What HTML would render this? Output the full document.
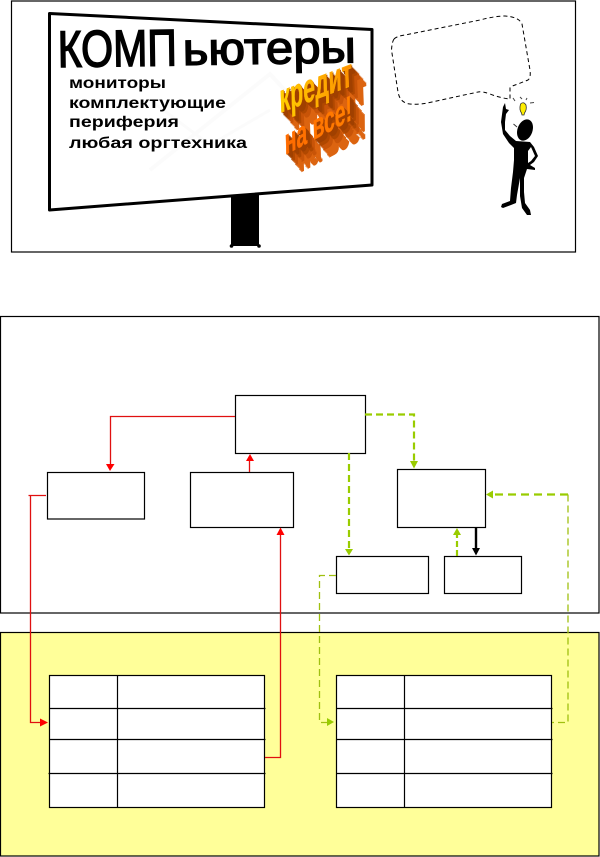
<!DOCTYPE html>
<html>
<head>
<meta charset="utf-8">
<style>
html,body{margin:0;padding:0;background:#fff;width:600px;height:857px;overflow:hidden}
svg{display:block}
text{font-family:"Liberation Sans",sans-serif}
</style>
</head>
<body>
<svg width="600" height="857" viewBox="0 0 600 857" xmlns="http://www.w3.org/2000/svg">
<defs>
<linearGradient id="g1" gradientUnits="userSpaceOnUse" x1="0" y1="0" x2="100" y2="0"><stop offset="0" stop-color="#FFD000"/><stop offset="1" stop-color="#FF9000"/></linearGradient>
<linearGradient id="g2" gradientUnits="userSpaceOnUse" x1="0" y1="0" x2="100" y2="0"><stop offset="0" stop-color="#FF6A00"/><stop offset="1" stop-color="#FF8000"/></linearGradient>
</defs>

<!-- top frame -->
<rect x="11.5" y="1" width="564" height="251" fill="#fff" stroke="#000" stroke-width="1.2"/>

<!-- pole -->
<rect x="231" y="192" width="28" height="54" fill="#000"/>
<circle cx="231.5" cy="246" r="1.8" fill="#000"/><circle cx="259" cy="246" r="1.8" fill="#000"/>
<!-- billboard -->
<polygon points="49.5,13.5 372,29.5 372,185 49.5,210" fill="#fff" stroke="#000" stroke-width="3" stroke-linejoin="round"/>
<!-- watermark -->
<polyline points="150,170 270,74 340,150" fill="none" stroke="#fbfbfb" stroke-width="4"/>
<polyline points="150,100 210,145 270,110" fill="none" stroke="#fbfbfb" stroke-width="3"/>

<!-- billboard title -->
<text transform="translate(58,67) rotate(-0.8) scale(1,1.24)" font-size="41.5" textLength="119" lengthAdjust="spacingAndGlyphs" fill="#000" stroke="#000" stroke-width="1.3">КОМП</text>
<text transform="translate(183,65) rotate(-0.9) scale(1,1.1)" font-size="41.5" textLength="173" lengthAdjust="spacingAndGlyphs" fill="#000" stroke="#000" stroke-width="1.3">ьютеры</text>
<g fill="#000" font-weight="bold" font-size="16">
<text x="69" y="88" textLength="97" lengthAdjust="spacingAndGlyphs">мониторы</text>
<text x="69" y="108" textLength="157" lengthAdjust="spacingAndGlyphs">комплектующие</text>
<text x="69" y="127" textLength="110" lengthAdjust="spacingAndGlyphs">периферия</text>
<text x="69" y="148" textLength="178" lengthAdjust="spacingAndGlyphs">любая оргтехника</text>
</g>

<!-- credit wordart -->
<g font-weight="bold" font-size="30">
<g fill="#DC6410">
<text transform="matrix(.71,-.27,.05,1.35,295,131)">кредит</text>
<text transform="matrix(.71,-.27,.05,1.35,294,130)">кредит</text>
<text transform="matrix(.71,-.27,.05,1.35,293,129)">кредит</text>
<text transform="matrix(.71,-.27,.05,1.35,292,127)">кредит</text>
<text transform="matrix(.71,-.27,.05,1.35,291,126)">кредит</text>
<text transform="matrix(.71,-.27,.05,1.35,290,125)">кредит</text>
<text transform="matrix(.71,-.27,.05,1.35,289,124)" fill="#C85408">кредит</text>
<text transform="matrix(.71,-.27,.05,1.35,288,122)" fill="#C85408">кредит</text>
<text transform="matrix(.71,-.27,.05,1.35,287,121)" fill="#C85408">кредит</text>
<text transform="matrix(.71,-.27,.05,1.35,286,120)" fill="#B04800">кредит</text>
<text transform="matrix(.71,-.27,.05,1.35,285,119)" fill="#B04800">кредит</text>
<text transform="matrix(.71,-.27,.05,1.35,284,118)" fill="#A04000">кредит</text>
<text transform="matrix(.71,-.27,.05,1.35,283,117)" fill="#A04000">кредит</text>
<text transform="matrix(.71,-.27,.05,1.35,282,116)" fill="#A04000">кредит</text>
<text transform="matrix(.71,-.27,.05,1.35,281,114)" fill="#A04000">кредит</text>
</g>
<g fill="#DC6410">
<text transform="matrix(.645,-.34,.03,1.2,300,173)">на все!</text>
<text transform="matrix(.645,-.34,.03,1.2,299,172)">на все!</text>
<text transform="matrix(.645,-.34,.03,1.2,298,171)">на все!</text>
<text transform="matrix(.645,-.34,.03,1.2,297,169)">на все!</text>
<text transform="matrix(.645,-.34,.03,1.2,296,168)">на все!</text>
<text transform="matrix(.645,-.34,.03,1.2,295,167)">на все!</text>
<text transform="matrix(.645,-.34,.03,1.2,294,166)" fill="#C85408">на все!</text>
<text transform="matrix(.645,-.34,.03,1.2,293,164)" fill="#C85408">на все!</text>
<text transform="matrix(.645,-.34,.03,1.2,292,163)" fill="#C85408">на все!</text>
<text transform="matrix(.645,-.34,.03,1.2,291,162)" fill="#B04800">на все!</text>
<text transform="matrix(.645,-.34,.03,1.2,290,161)" fill="#B04800">на все!</text>
<text transform="matrix(.645,-.34,.03,1.2,289,159)" fill="#A04000">на все!</text>
<text transform="matrix(.645,-.34,.03,1.2,288,158)" fill="#A04000">на все!</text>
<text transform="matrix(.645,-.34,.03,1.2,287,157)" fill="#A04000">на все!</text>
<text transform="matrix(.645,-.34,.03,1.2,286,156)" fill="#A04000">на все!</text>
</g>
<text transform="matrix(.645,-.34,.03,1.2,285,155)" fill="url(#g2)" stroke="#FF7000" stroke-width=".4">на все!</text>
<text transform="matrix(.71,-.27,.05,1.35,280,113)" fill="url(#g1)" stroke="#FFB000" stroke-width=".4">кредит</text>
</g>

<!-- speech bubble -->
<path d="M394,39 Q392,42 391.5,50 L398,92 Q400,103 410,104 Q420,105 432,102 L478,92 Q482,91 490,94 Q500,98 510,99 L510,88 Q511,86 518,84 L528,80 Q531,78 530,70 L522,24 Q519,17 505,16 Q495,16 480,20 L405,35 Q397,36 394,39 Z" fill="none" stroke="#000" stroke-width="1" stroke-dasharray="4 3"/>

<!-- person -->
<g fill="#000">
<ellipse cx="525" cy="130" rx="7.5" ry="11" transform="rotate(20 525 130)"/>
<path d="M503,107 L505,103 L506,109 L509,110 L506,114 L505,122 L505,130 L510,136 L516,141 L530,142 L534,147 L538,156 L534,162 L530,165 L535,168 L535,170 L527,169 L524,178 L524,192 L525,203 L530,210 L531,215 L527,215 L522,208 L520,196 L520,178 L517,195 L516,203 L511,205 L503,208 L501,207 L502,204 L510,201 L511,188 L513,172 L514,160 L514,148 L509,143 L503,134 L501,122 Z"/>
</g>
<polygon points="528,151 531,147 535,156 531,161 528,163" fill="#fff"/>
<path d="M513.5,124 L517,127" stroke="#333" stroke-width="1"/>
<path d="M520.5,104 Q519,110 521.5,113 L522,115 L524,115 L524.5,113 Q527,110 526,105 Q523.5,101 520.5,104 Z" fill="#FFEE00" stroke="#333" stroke-width=".8"/>
<g stroke="#444" stroke-width="1"><path d="M520,97 L522,99"/><path d="M527,98 L526,100"/><path d="M530,103 L534,102.5"/><path d="M513,98 L515,101"/></g>

<!-- middle frame -->
<rect x="0.5" y="316.5" width="598.5" height="296.5" fill="#fff" stroke="#000" stroke-width="1.2"/>

<!-- boxes -->
<g fill="#fff" stroke="#000" stroke-width="1.2">
<rect x="235.5" y="395.5" width="130" height="58"/>
<rect x="47.5" y="472.5" width="97" height="46.5"/>
<rect x="190.5" y="472.5" width="103" height="55"/>
<rect x="397.5" y="469.5" width="88" height="58"/>
<rect x="336.5" y="556.5" width="92" height="37"/>
<rect x="444.5" y="556.5" width="77" height="37"/>
</g>

<!-- yellow frame -->
<rect x="0.5" y="632.5" width="598.5" height="223.5" fill="#FFFF99" stroke="#000" stroke-width="1.2"/>

<!-- tables -->
<g fill="#fff" stroke="#000" stroke-width="1.2">
<rect x="49.5" y="675.5" width="215" height="132"/>
<rect x="336.5" y="675.5" width="215" height="132"/>
</g>
<g stroke="#000" stroke-width="1.2" fill="none">
<path d="M117.5,675.5 V807.5 M49.5,708.5 H265.5 M49.5,739.5 H265.5 M48.5,773.5 H265.5"/>
<path d="M404.5,675.5 V807.5 M336.5,708.5 H552.5 M336.5,739.5 H552.5 M336.5,773.5 H552.5"/>
</g>

<!-- red connectors -->
<g fill="none" stroke="#E01010" stroke-width="1.3">
<path d="M235,416.5 H110.5 V466"/>
<path d="M46,495.5 H28.5 M30.5,495.5 V722.5 H42"/>
<path d="M265,757.5 H280.5 V532"/>
<path d="M249.5,472 V458"/>
</g>
<g fill="#FF0000">
<polygon points="106,464 114.5,464 110,471"/>
<polygon points="40,718.5 48,722.5 40,726.5"/>
<polygon points="280.5,527.5 284.5,535 276.5,535"/>
<polygon points="250,454 254,461 246,461"/>
</g>

<!-- green connectors -->
<g fill="none" stroke="#99CC00">
<path d="M365,414.5 H414 V464" stroke-width="2.2" stroke-dasharray="7 4"/>
<path d="M349,453 V551" stroke-width="2.2" stroke-dasharray="7 4"/>
<path d="M457,556 V532" stroke-width="2.2" stroke-dasharray="6 3"/>
<path d="M568,494.5 H491" stroke-width="2.2" stroke-dasharray="8 5"/>
<path d="M568,494.5 V722.5 H552" stroke-width="1.3" stroke-dasharray="7 4" stroke="#A0C010"/>
<path d="M336,575.5 H319.5 V722.5 H330" stroke-width="1.3" stroke-dasharray="7 4" stroke="#A0C010"/>
</g>
<g fill="#99CC00">
<polygon points="410,461 418,461 414,468.5"/>
<polygon points="345,549 353,549 349,555.5"/>
<polygon points="457,528 461,535 453,535"/>
<polygon points="486,494.5 493,490.5 493,498.5"/>
<polygon points="334,722 327,718 327,726"/>
</g>

<!-- black arrow -->
<path d="M476,527 V550" stroke="#000" stroke-width="2.4" fill="none"/>
<polygon points="472,548 480,548 476,555.5" fill="#000"/>
</svg>
</body>
</html>
